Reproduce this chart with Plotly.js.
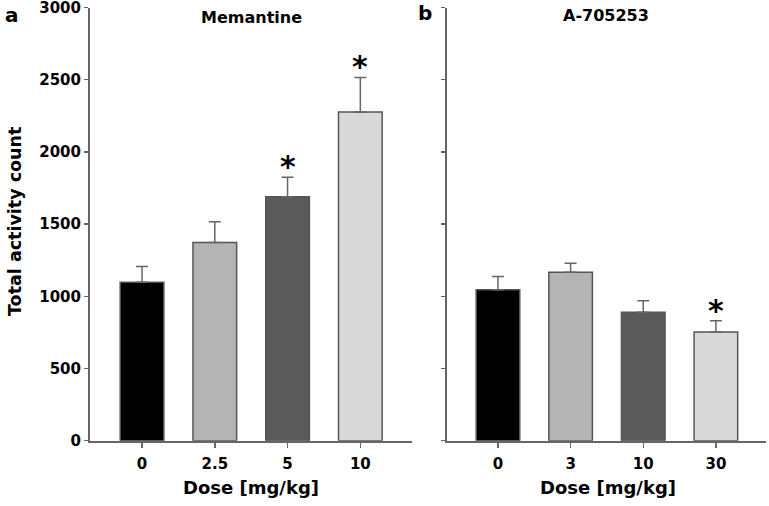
<!DOCTYPE html>
<html>
<head>
<meta charset="utf-8">
<script src="https://cdn.plot.ly/plotly-3.0.1.min.js"></script>
<style>
  body { margin: 0; background: #fff; }
  #chart { width: 769px; height: 506px; }
</style>
</head>
<body>
<div id="chart"></div>
<script>
// Panel a: Memantine
const memDoses = ['0', '2.5', '5', '10'];
const memMean = [1098, 1372, 1689, 2276];
const memErr = [108, 144, 136, 240];
const memSig = [false, false, true, true];

// Panel b: A-705253
const a7Doses = ['0', '3', '10', '30'];
const a7Mean = [1046, 1167, 890, 753];
const a7Err = [91, 62, 80, 77];
const a7Sig = [false, false, false, true];

const barColors = ['#000000', '#b4b4b4', '#5a5a5a', '#d9d9d9'];
const yTicks = [0, 500, 1000, 1500, 2000, 2500, 3000];

const W = 769, H = 506;
const FONT = 'DejaVu Sans, Liberation Sans, Arial, sans-serif';
const px = x => x / W;       // pixel -> paper x
const py = y => 1 - y / H;   // pixel -> paper y

function barTrace(doses, means, errs, xa, ya) {
    return {
        type: 'bar',
        x: doses,
        y: means,
        xaxis: xa,
        yaxis: ya,
        width: 0.6,
        marker: {
            color: barColors,
            line: { color: '#555555', width: 1.5 }
        },
        error_y: {
            type: 'data',
            symmetric: false,
            array: errs,
            arrayminus: errs.map(() => 0),
            color: '#666666',
            thickness: 1.5,
            width: 6
        },
        hoverinfo: 'skip',
        showlegend: false
    };
}

const traces = [
    barTrace(memDoses, memMean, memErr, 'x', 'y'),
    barTrace(a7Doses, a7Mean, a7Err, 'x2', 'y2')
];

// asterisks above significant bars (category axes take the serial index)
const stars = [];
memSig.forEach((sig, i) => {
    if (sig) stars.push({ x: i, y: memMean[i] + memErr[i], xref: 'x', yref: 'y' });
});
a7Sig.forEach((sig, i) => {
    if (sig) stars.push({ x: i, y: a7Mean[i] + a7Err[i], xref: 'x2', yref: 'y2' });
});
const starAnns = stars.map(s => ({
    x: s.x, y: s.y, xref: s.xref, yref: s.yref,
    text: '*', showarrow: false,
    xanchor: 'center', yanchor: 'bottom', yshift: -9,
    font: { family: FONT, size: 30, color: '#000', weight: 'bold' }
}));

const axisCommon = {
    showline: true,
    linecolor: '#666666',
    linewidth: 2,
    ticks: 'outside',
    ticklen: 5,
    tickwidth: 1.5,
    tickcolor: '#666666',
    showgrid: false,
    zeroline: false,
    ticklabeloverflow: 'allow',
    tickfont: { family: FONT, size: 15, color: '#000', weight: 'bold' }
};

function paperText(text, x, y, size, extra) {
    return Object.assign({
        text: text, x: px(x), y: py(y), xref: 'paper', yref: 'paper',
        xanchor: 'center', yanchor: 'middle', showarrow: false,
        font: { family: FONT, size: size, color: '#000', weight: 'bold' }
    }, extra || {});
}

const layout = {
    width: W,
    height: H,
    margin: { l: 0, r: 0, t: 0, b: 0 },
    paper_bgcolor: '#fff',
    plot_bgcolor: '#fff',
    xaxis: Object.assign({}, axisCommon, {
        domain: [px(90), px(412)],
        type: 'category',
        range: [-0.715, 3.71],
        ticklabelstandoff: 3,
        anchor: 'y'
    }),
    yaxis: Object.assign({}, axisCommon, {
        domain: [py(440.7), py(7.5)],
        range: [0, 3000],
        tickvals: yTicks,
        ticklen: 4,
        anchor: 'x'
    }),
    xaxis2: Object.assign({}, axisCommon, {
        domain: [px(446.7), px(766)],
        type: 'category',
        range: [-0.706, 3.69],
        ticklabelstandoff: 3,
        anchor: 'y2'
    }),
    yaxis2: Object.assign({}, axisCommon, {
        domain: [py(440.7), py(7.5)],
        range: [0, 3000],
        tickvals: yTicks,
        ticklen: 4,
        showticklabels: false,
        anchor: 'x2'
    }),
    annotations: [
        paperText('a', 12, 15, 20),
        paperText('b', 425, 13, 20),
        paperText('Memantine', 251, 17, 16),
        paperText('A-705253', 606, 15, 16),
        paperText('Dose [mg/kg]', 251, 487, 18),
        paperText('Dose [mg/kg]', 608, 487, 18),
        paperText('Total activity count', 15, 222, 17.5, { textangle: -90 })
    ].concat(starAnns)
};

Plotly.newPlot('chart', traces, layout, { displayModeBar: false, staticPlot: true });
</script>
</body>
</html>
